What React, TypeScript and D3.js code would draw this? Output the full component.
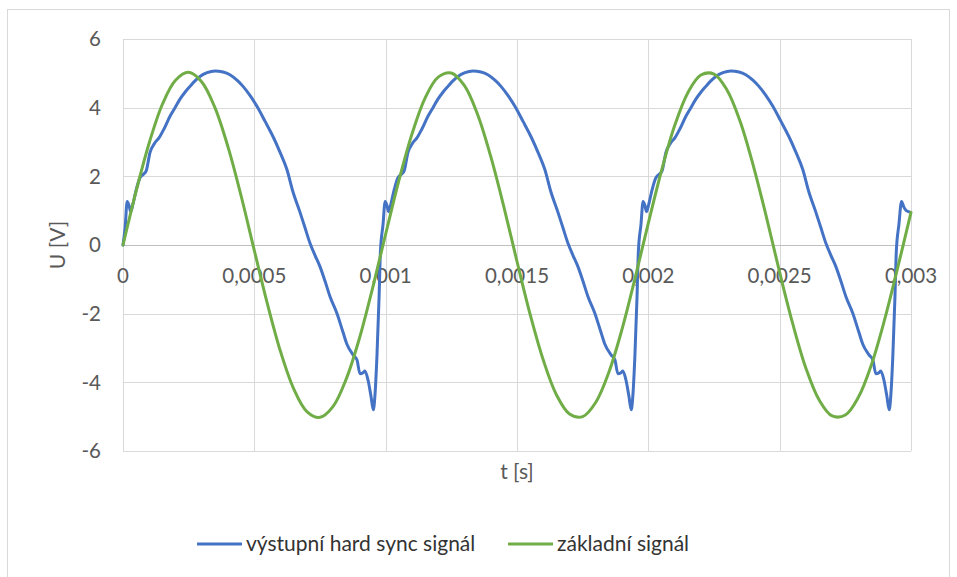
import React from 'react';
import * as d3 from 'd3';

// axis ticks
const xTicks = [0, 0.0005, 0.001, 0.0015, 0.002, 0.0025, 0.003];
const xTickLabels = ['0', '0,0005', '0,001', '0,0015', '0,002', '0,0025', '0,003'];
const yTicks = [-6, -4, -2, 0, 2, 4, 6];
const yTickLabels = ['-6', '-4', '-2', '0', '2', '4', '6'];

const seriesNames = ['výstupní hard sync signál', 'základní signál'];
const seriesColors = ['#4472C4', '#70AD47'];

// základní signál, time in microseconds
const baseTimeUs = [
  0, 50, 100, 150, 200, 250, 300, 350, 400, 450,
  500, 550, 600, 650, 700, 750, 800, 850, 900, 950,
  1000, 1050, 1100, 1150, 1200, 1250, 1300, 1350, 1400, 1450,
  1500, 1550, 1600, 1650, 1700, 1750, 1800, 1850, 1900, 1950,
  2000, 2050, 2100, 2150, 2200, 2250, 2300, 2350, 2400, 2450,
  2500, 2550, 2600, 2650, 2700, 2750, 2800, 2850, 2900, 2950,
  3000,
];
const baseValues = [
  0, 1.57, 2.98, 4.1, 4.8, 5.03, 4.75, 4.0, 2.85, 1.42,
  -0.16, -1.72, -3.11, -4.19, -4.85, -5.02, -4.7, -3.9, -2.72, -1.26,
  0.32, 1.87, 3.23, 4.28, 4.89, 5.01, 4.64, 3.8, 2.58, 1.11,
  -0.48, -2.02, -3.35, -4.36, -4.92, -5.0, -4.58, -3.7, -2.45, -0.95,
  0.64, 2.16, 3.47, 4.43, 4.95, 4.98, 4.51, 3.59, 2.3, 0.8,
  -0.8, -2.3, -3.59, -4.51, -4.98, -4.95, -4.43, -3.47, -2.16, -0.64,
  0.95,
];

// výstupní hard sync signál, time in microseconds
const syncTimeUs = [
  0, 8, 16, 23, 29, 38, 50, 64, 76, 88, 103, 121, 137, 156, 179, 198, 217, 236, 255, 274,
  293, 320, 350, 381, 407, 434, 457, 484, 510, 541, 571, 598, 624, 647, 674, 693, 712, 731, 750, 769,
  788, 815, 838, 853, 876, 891, 902, 914, 921, 933, 944, 953, 959, 967, 975, 980,
  990, 998, 1005, 1011, 1020, 1032, 1046, 1058, 1070, 1085, 1103, 1119, 1138, 1161, 1180, 1199, 1218, 1237, 1256,
  1275, 1302, 1332, 1363, 1389, 1416, 1439, 1466, 1492, 1523, 1553, 1580, 1606, 1629, 1656, 1675, 1694, 1713, 1732,
  1751, 1770, 1797, 1820, 1835, 1858, 1873, 1884, 1896, 1903, 1915, 1926, 1935, 1941, 1949, 1957, 1962,
  1972, 1980, 1987, 1993, 2002, 2014, 2028, 2040, 2052, 2067, 2085, 2101, 2120, 2143, 2162, 2181, 2200, 2219, 2238,
  2257, 2284, 2314, 2345, 2371, 2398, 2421, 2448, 2474, 2505, 2535, 2562, 2588, 2611, 2638, 2657, 2676, 2695, 2714,
  2733, 2752, 2779, 2802, 2817, 2840, 2855, 2866, 2878, 2885, 2897, 2908, 2917, 2923, 2931, 2939, 2944,
  2954, 2964, 2972, 2982, 2992,
];
const syncValues = [
  0, 0.5, 1.27, 1.15, 0.97, 1.2, 1.6, 1.95, 2.05, 2.15, 2.7, 2.97, 3.12, 3.38, 3.75, 4.0, 4.25, 4.45, 4.62, 4.78,
  4.91, 5.02, 5.07, 5.04, 4.96, 4.8, 4.62, 4.35, 4.04, 3.6, 3.16, 2.7, 2.2, 1.55, 0.95, 0.5, 0.05, -0.3, -0.63, -1.05,
  -1.5, -2.0, -2.55, -2.9, -3.2, -3.35, -3.75, -3.72, -3.67, -3.94, -4.4, -4.8, -4.4, -3.2, -1.5, -0.2,
  0.6, 1.27, 1.15, 0.97, 1.2, 1.6, 1.95, 2.05, 2.15, 2.7, 2.97, 3.12, 3.38, 3.75, 4.0, 4.25, 4.45, 4.62, 4.78,
  4.91, 5.02, 5.07, 5.04, 4.96, 4.8, 4.62, 4.35, 4.04, 3.6, 3.16, 2.7, 2.2, 1.55, 0.95, 0.5, 0.05, -0.3, -0.63,
  -1.05, -1.5, -2.0, -2.55, -2.9, -3.2, -3.35, -3.75, -3.72, -3.67, -3.94, -4.4, -4.8, -4.4, -3.2, -1.5, -0.2,
  0.6, 1.27, 1.15, 0.97, 1.2, 1.6, 1.95, 2.05, 2.15, 2.7, 2.97, 3.12, 3.38, 3.75, 4.0, 4.25, 4.45, 4.62, 4.78,
  4.91, 5.02, 5.07, 5.04, 4.96, 4.8, 4.62, 4.35, 4.04, 3.6, 3.16, 2.7, 2.2, 1.55, 0.95, 0.5, 0.05, -0.3, -0.63,
  -1.05, -1.5, -2.0, -2.55, -2.9, -3.2, -3.35, -3.75, -3.72, -3.67, -3.94, -4.4, -4.8, -4.4, -3.2, -1.5, -0.2,
  0.6, 1.27, 1.12, 1.0, 0.97,
];

const W = 957;
const H = 577;
const FONT = 'Lato, "Open Sans", sans-serif';

const App: React.FC = () => {
  const x = d3.scaleLinear().domain([0, 0.003]).range([123, 911]);
  const y = d3.scaleLinear().domain([-6, 6]).range([451, 39]);
  const crisp = (v: number) => Math.round(v) + 0.5;

  const syncLine = d3.line<number>()
    .x((_, i) => x(syncTimeUs[i] * 1e-6))
    .y(d => y(d))
    .curve(d3.curveMonotoneX);

  const baseLine = d3.line<number>()
    .x((_, i) => x(baseTimeUs[i] * 1e-6))
    .y(d => y(d))
    .curve(d3.curveCatmullRom.alpha(0.5));

  const legendItems = [
    { x: 197, name: seriesNames[0], color: seriesColors[0] },
    { x: 508, name: seriesNames[1], color: seriesColors[1] },
  ];

  return (
    <svg width={W} height={H} style={{ position: 'absolute', left: 0, top: 0, background: '#fff' }}
      fontFamily={FONT}>
      <rect x={7.5} y={9.5} width={942} height={575} fill="#fff" stroke="#d9d9d9" />

      {/* grid */}
      {yTicks.filter(t => t !== 0).map(t => (
        <line key={'gy' + t} x1={x(0)} x2={x(0.003)} y1={crisp(y(t))} y2={crisp(y(t))}
          stroke="#d9d9d9" strokeWidth={1} />
      ))}
      {xTicks.map(t => (
        <line key={'gx' + t} x1={crisp(x(t))} x2={crisp(x(t))} y1={y(6)} y2={y(-6)}
          stroke="#d9d9d9" strokeWidth={1} />
      ))}
      <line x1={x(0)} x2={x(0.003)} y1={crisp(y(0))} y2={crisp(y(0))} stroke="#bfbfbf" strokeWidth={1} />

      {/* y tick labels */}
      {yTicks.map((t, i) => (
        <text key={'ty' + t} x={101} y={y(t)} dy="0.35em" textAnchor="end" fontSize={20.5} fill="#595959">
          {yTickLabels[i]}
        </text>
      ))}

      {/* x tick labels, along the zero line */}
      {xTicks.map((t, i) => (
        <text key={'tx' + t} x={x(t)} y={283} textAnchor="middle" fontSize={20.5} fill="#595959">
          {xTickLabels[i]}
        </text>
      ))}

      {/* series */}
      <path d={syncLine(syncValues) || ''} fill="none" stroke={seriesColors[0]} strokeWidth={3}
        strokeLinejoin="round" strokeLinecap="round" />
      <path d={baseLine(baseValues) || ''} fill="none" stroke={seriesColors[1]} strokeWidth={3}
        strokeLinejoin="round" strokeLinecap="round" />

      {/* axis titles */}
      <text transform={`translate(65,${(y(6) + y(-6)) / 2}) rotate(-90)`} textAnchor="middle"
        fontSize={21} fill="#595959">U [V]</text>
      <text x={(x(0) + x(0.003)) / 2} y={479} textAnchor="middle" fontSize={21} fill="#595959">t [s]</text>

      {/* legend */}
      {legendItems.map(item => (
        <g key={item.name}>
          <line x1={item.x} x2={item.x + 45} y1={544} y2={544} stroke={item.color} strokeWidth={3} />
          <text x={item.x + 49} y={551} fontSize={21} fill="#333333">{item.name}</text>
        </g>
      ))}
    </svg>
  );
};

export default App;
